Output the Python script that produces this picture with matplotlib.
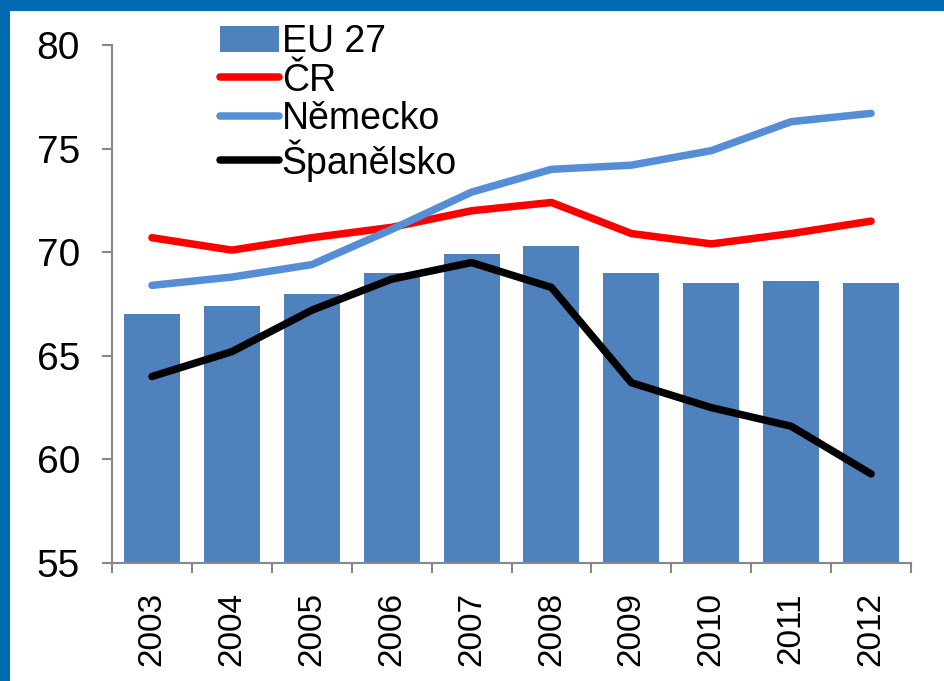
import matplotlib
matplotlib.use("Agg")
import matplotlib.pyplot as plt
import numpy as np
from matplotlib.patches import Rectangle
from matplotlib.legend_handler import HandlerPatch

plt.rcParams['font.family'] = ['Liberation Sans', 'DejaVu Sans']

years = ["2003", "2004", "2005", "2006", "2007", "2008", "2009", "2010", "2011", "2012"]
eu27 = [67.0, 67.4, 68.0, 69.0, 69.9, 70.3, 69.0, 68.5, 68.6, 68.5]
cr = [70.7, 70.1, 70.7, 71.2, 72.0, 72.4, 70.9, 70.4, 70.9, 71.5]
nemecko = [68.4, 68.8, 69.4, 71.1, 72.9, 74.0, 74.2, 74.9, 76.3, 76.7]
spanelsko = [64.0, 65.2, 67.2, 68.7, 69.5, 68.3, 63.7, 62.5, 61.6, 59.3]
yticks = [55, 60, 65, 70, 75, 80]

fig = plt.figure(figsize=(9.44, 6.81), dpi=100)
fig.patch.set_facecolor("white")
# blue frame strips (top and left)
fig.patches.append(Rectangle((0, 1 - 10.5 / 681), 1, 10.5 / 681, transform=fig.transFigure,
                             facecolor="#0069AF", edgecolor="none", zorder=0))
fig.patches.append(Rectangle((0, 0), 10 / 944, 1, transform=fig.transFigure,
                             facecolor="#0069AF", edgecolor="none", zorder=0))

ax = fig.add_axes([112 / 944, 1 - 563 / 681, (911 - 112) / 944, (563 - 45) / 681])
x = np.arange(len(years))
hb = ax.bar(x, [v - 55 for v in eu27], bottom=55, width=0.7, color="#4F81BD", label="EU 27", zorder=2)
lw = 5.4
h1, = ax.plot(x, cr, color="#FF0000", lw=lw, solid_capstyle="round", solid_joinstyle="round", label="ČR", zorder=3)
h2, = ax.plot(x, nemecko, color="#558ED5", lw=lw, solid_capstyle="round", solid_joinstyle="round", label="Německo", zorder=3)
h3, = ax.plot(x, spanelsko, color="#000000", lw=lw, solid_capstyle="round", solid_joinstyle="round", label="Španělsko", zorder=3)

ax.set_ylim(55, 80)
ax.set_xlim(-0.5, len(years) - 0.5)
ax.set_yticks(yticks)
ax.set_yticklabels([str(t) for t in yticks], fontsize=28)
ax.set_xticks(x)
ax.set_xticklabels(years, rotation=90, fontsize=24)
ax.tick_params(axis="x", length=0, pad=21)
ax.set_xticks(np.arange(-0.5, len(years), 1), minor=True)
ax.tick_params(axis="x", which="minor", length=7, color="#888888", width=1.5)
ax.tick_params(axis="y", length=7, color="#888888", width=1.5, pad=16)
for s in ["top", "right"]:
    ax.spines[s].set_visible(False)
for s in ["left", "bottom"]:
    ax.spines[s].set_color("#888888")
    ax.spines[s].set_linewidth(1.5)


def make_rect(legend, orig_handle, xdescent, ydescent, width, height, fontsize):
    h = 0.53 * fontsize
    return Rectangle((-xdescent, -ydescent + height / 2 - h / 2), width, h)


leg = ax.legend([hb, h1, h2, h3], ["EU 27", "ČR", "Německo", "Španělsko"],
                loc="upper left", bbox_to_anchor=(0.135, 1.04), frameon=False, fontsize=27,
                handlelength=1.57, handletextpad=0.08, labelspacing=0.06, borderaxespad=0,
                borderpad=0, handler_map={type(hb[0]): HandlerPatch(patch_func=make_rect)})

fig.savefig("out.png", dpi=100, facecolor="white")
